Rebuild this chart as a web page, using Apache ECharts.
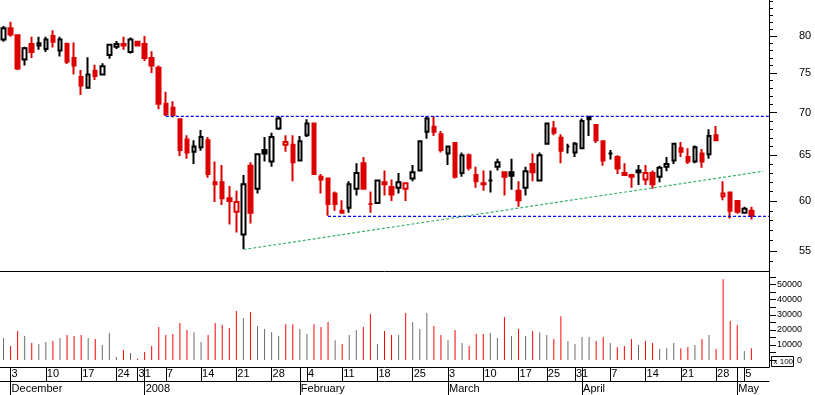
<!DOCTYPE html>
<html><head><meta charset="utf-8">
<script src="https://cdn.jsdelivr.net/npm/echarts@6/dist/echarts.min.js"></script>
<style>html,body{margin:0;padding:0;background:#fff}#c{width:815px;height:395px}</style>
</head><body><div id="c"></div>
<script>
const dates = [
'2007-11-30',
'2007-12-03','2007-12-04','2007-12-05','2007-12-06','2007-12-07',
'2007-12-10','2007-12-11','2007-12-12','2007-12-13','2007-12-14',
'2007-12-17','2007-12-18','2007-12-19','2007-12-20','2007-12-21',
'2007-12-24','2007-12-27','2007-12-28',
'2007-12-31','2008-01-02','2008-01-03','2008-01-04',
'2008-01-07','2008-01-08','2008-01-09','2008-01-10','2008-01-11',
'2008-01-14','2008-01-15','2008-01-16','2008-01-17','2008-01-18',
'2008-01-21','2008-01-22','2008-01-23','2008-01-24','2008-01-25',
'2008-01-28','2008-01-29','2008-01-30','2008-01-31','2008-02-01',
'2008-02-04','2008-02-05','2008-02-06','2008-02-07','2008-02-08',
'2008-02-11','2008-02-12','2008-02-13','2008-02-14','2008-02-15',
'2008-02-18','2008-02-19','2008-02-20','2008-02-21','2008-02-22',
'2008-02-25','2008-02-26','2008-02-27','2008-02-28','2008-02-29',
'2008-03-03','2008-03-04','2008-03-05','2008-03-06','2008-03-07',
'2008-03-10','2008-03-11','2008-03-12','2008-03-13','2008-03-14',
'2008-03-17','2008-03-18','2008-03-19','2008-03-20',
'2008-03-25','2008-03-26','2008-03-27','2008-03-28',
'2008-03-31','2008-04-01','2008-04-02','2008-04-03','2008-04-04',
'2008-04-07','2008-04-08','2008-04-09','2008-04-10','2008-04-11',
'2008-04-14','2008-04-15','2008-04-16','2008-04-17','2008-04-18',
'2008-04-21','2008-04-22','2008-04-23','2008-04-24','2008-04-25',
'2008-04-28','2008-04-29','2008-04-30','2008-05-02',
'2008-05-05','2008-05-06',
'2008-05-07','2008-05-08'
];
const opens = [
79.5,81.1,80.1,76.8,78.9,78.7,78.2,80.0,78.0,78.9,77.0,74.5,73.1,75.3,74.8,77.4,78.5,78.9,77.8,79.2,
78.9,77.0,75.7,71.1,70.6,69.2,66.8,65.4,65.9,66.7,62.0,62.0,60.3,58.9,56.6,63.8,61.3,65.6,64.3,68.1,
66.2,66.2,64.4,67.3,68.7,62.6,62.4,60.8,58.8,59.3,61.3,64.1,59.7,59.8,61.8,61.5,61.4,61.3,62.4,63.3,
67.7,68.3,67.4,65.2,66.4,63.0,65.0,62.8,61.9,62.2,63.7,63.1,63.1,61.1,61.4,64.0,62.2,66.3,68.1,67.0,
66.0,65.3,65.8,69.5,68.5,66.6,65.2,64.8,63.0,62.8,63.3,62.3,63.0,62.6,63.7,64.4,65.8,64.8,64.3,65.2,
65.1,67.3,60.5,60.9,60.0,58.8,59.0
];
const highs = [
81.4,82.0,80.2,78.5,79.9,79.9,79.9,80.8,79.9,79.1,79.1,75.4,77.1,76.1,76.3,78.8,79.3,79.9,79.8,79.2,
80.0,77.9,76.0,72.6,71.4,69.3,67.3,66.7,67.9,67.1,64.3,63.9,61.6,61.1,62.8,64.2,65.1,67.1,67.6,69.6,
67.3,67.3,67.2,69.2,68.8,62.9,62.4,61.0,60.1,62.1,64.1,64.8,61.0,62.3,63.3,62.3,63.0,61.9,63.9,66.6,
69.6,69.6,67.8,66.1,66.4,65.3,65.2,63.7,63.3,63.3,64.6,63.1,64.6,62.1,63.7,65.2,65.3,68.8,69.0,67.4,
66.3,66.5,69.3,69.5,68.5,66.7,65.6,65.0,64.1,62.9,63.9,63.9,63.3,63.8,64.8,66.4,66.5,65.8,66.1,65.7,
68.0,68.4,62.1,60.9,60.0,59.4,59.4
];
const lows = [
79.2,79.9,75.4,76.0,77.0,78.1,77.8,78.4,77.2,76.2,74.8,72.2,73.1,74.1,74.8,76.9,78.2,78.1,77.6,78.6,
76.6,75.0,70.4,69.6,69.4,64.9,64.6,64.0,65.5,62.5,59.9,59.6,57.6,56.8,55.2,57.7,60.8,64.3,63.7,67.9,
65.4,62.1,64.4,67.1,62.9,60.8,58.5,59.0,58.7,58.8,60.6,61.2,58.8,59.8,60.6,60.0,60.8,60.0,62.1,63.2,
66.9,67.2,65.3,63.9,62.4,62.6,63.3,61.4,61.1,60.9,63.3,60.6,61.2,59.4,60.6,62.1,62.2,66.2,67.3,64.1,
65.2,64.8,65.8,67.2,66.4,63.8,64.5,62.9,62.7,61.4,61.7,61.7,61.3,62.0,63.2,64.0,64.8,64.0,64.1,63.6,
64.6,66.6,60.1,58.2,58.7,58.7,58.1
];
const closes = [
81.1,80.2,75.6,78.3,77.8,79.0,79.5,79.2,79.5,76.5,76.0,73.4,74.8,74.6,75.9,78.8,78.9,78.7,79.5,78.7,
77.0,76.0,71.1,69.8,69.7,65.6,65.3,66.0,67.1,62.9,61.8,60.3,60.0,59.9,61.8,58.8,65.1,65.2,67.1,69.3,
66.5,64.2,66.6,68.7,62.9,62.3,59.7,59.7,59.0,61.8,63.0,61.3,59.7,62.2,62.0,60.7,62.0,61.9,63.1,66.6,
69.3,67.7,65.6,66.0,62.6,65.0,63.6,62.1,61.8,62.2,64.2,62.6,62.7,60.1,63.2,63.1,65.0,68.7,67.6,65.5,
66.0,66.3,69.0,69.2,66.7,64.4,65.2,63.5,62.8,62.6,63.1,63.0,61.8,63.6,64.0,66.3,65.4,64.3,65.9,64.3,
67.2,66.7,60.8,59.0,58.9,59.2,58.5
];
const volumes = [
14600,9300,19200,15900,11300,10600,11900,12600,14600,16600,15900,16600,14600,13900,9900,17900,2000,6600,4600,900,
5300,9300,21900,16600,17200,24500,19900,18500,11900,16600,24500,23200,21200,32500,27800,31800,22500,20500,18500,15900,
23800,23800,20500,17200,23800,21900,25200,13200,10600,16600,19900,21900,30500,10600,19200,16600,16600,31100,25200,20500,
31100,22500,16600,13200,19900,11300,9300,17200,17200,17900,14600,28500,15900,20500,15900,19200,18500,16600,13900,29100,
12600,10600,15200,15200,12600,15200,11300,8600,9300,13900,9900,12600,11300,7300,7900,11300,7900,8600,9900,13900,
16600,7300,53600,25800,23200,6000,7900
];
const priceLabels = [55,60,65,70,75,80];
const priceMinorTicks = [54,55,56,57,58,59,60,61,62,63,64,65,66,67,68,69,70,71,72,73,74,75,76,77,78,79,80,81,82,83,84,85];
const priceRange = [53.12, 85.18];
const volumeLabels = [0,10000,20000,30000,40000,50000];
const volumeTicks = [0,5000,10000,15000,20000,25000,30000,35000,40000,45000,50000,55000];
const volumeRange = [-4600, 59000];
const resistanceLine = [[23,69.55],[108.5,69.55]];
const supportLine = [[46,58.43],[108.5,58.43]];
const trendLine = [[34,55.15],[107.7,63.2]];
const monthNames = ['2008','February','March','April','May','June','July','August','September','October','November','December'];

const RED = '#dc0000', BLACK = '#000000', VRED = '#ff0000', VGRAY = '#6b6b6b';
const FONT = 'Liberation Sans';
const L = Math.log;

function dow(s){ return new Date(s + 'T00:00:00Z').getUTCDay(); }
function dayDiff(a,b){ return (new Date(b+'T00:00:00Z') - new Date(a+'T00:00:00Z'))/86400000; }
function isWeekStart(i){ if (i <= 0) return false; return dow(dates[i]) <= dow(dates[i-1]) || dayDiff(dates[i-1], dates[i]) >= 7; }
function isMonthStart(i){ if (i <= 0) return false; return dates[i].slice(5,7) !== dates[i-1].slice(5,7); }

const candleData = dates.map((d,i) => {
  if (i >= opens.length) return '-';
  const o = opens[i], c = closes[i], pc = i > 0 ? closes[i-1] : null;
  const down = pc !== null && (c < pc || (c === pc && c < o));
  const edge = down ? RED : BLACK;
  const fill = c > o ? '#ffffff' : edge;
  return { value: [L(o), L(c), L(lows[i]), L(highs[i])],
    itemStyle: { color: fill, color0: fill, borderColor: edge, borderColor0: edge } };
});
const volumeData = dates.map((d,i) => {
  if (i >= volumes.length) return '-';
  const down = i > 0 && closes[i] < closes[i-1];
  return { value: volumes[i], itemStyle: { color: down ? VRED : VGRAY } };
});
const toLn = arr => arr.map(p => [p[0], L(p[1])]);

const chart = echarts.init(document.getElementById('c'), null, { renderer: 'canvas' });
const lbl = { color: '#000', fontFamily: FONT, fontSize: 11 };
const line1 = { onZero: false, lineStyle: { color: '#000', width: 1 } };
chart.setOption({
  animation: false,
  backgroundColor: '#ffffff',
  grid: [
    { left: 0, top: 0, width: 769, height: 271, containLabel: false, outerBoundsMode: 'none' },
    { left: 0, top: 271, width: 769, height: 96, containLabel: false, outerBoundsMode: 'none' }
  ],
  xAxis: [
    { type: 'category', gridIndex: 0, data: dates, boundaryGap: true, position: 'bottom',
      axisLine: line1, axisTick: { show: false }, axisLabel: { show: false }, splitLine: { show: false } },
    { type: 'value', gridIndex: 0, min: -0.5, max: 108.5, show: false, position: 'top',
      axisLine: { show: false, onZero: false }, splitLine: { show: false } },
    { type: 'category', gridIndex: 1, data: dates, boundaryGap: true, position: 'bottom',
      axisLine: line1,
      axisTick: { show: true, alignWithLabel: true, length: 14, interval: (i) => isWeekStart(i) || isMonthStart(i), lineStyle: { color: '#000', width: 1 } },
      axisLabel: Object.assign({ interval: (i) => isWeekStart(i), formatter: v => String(+v.slice(8)), align: 'left', margin: 1, padding: [0,0,0,1] }, lbl),
      splitLine: { show: false } },
    { type: 'category', gridIndex: 1, data: dates, boundaryGap: true, position: 'bottom', offset: 14,
      axisLine: line1,
      axisTick: { show: true, alignWithLabel: true, length: 14, interval: (i) => isMonthStart(i), lineStyle: { color: '#000', width: 1 } },
      axisLabel: Object.assign({ interval: (i) => isMonthStart(i), formatter: v => monthNames[(+v.slice(5,7)) - 1], align: 'left', margin: 2, padding: [0,0,0,1] }, lbl),
      splitLine: { show: false } }
  ],
  yAxis: [
    { type: 'value', gridIndex: 0, position: 'right', min: L(priceRange[0]), max: L(priceRange[1]),
      axisLine: { show: true, onZero: false, lineStyle: { color: '#000', width: 1 } },
      axisTick: { show: true, length: 8, customValues: priceLabels.map(L), lineStyle: { color: '#000' } },
      axisLabel: Object.assign({ customValues: priceLabels.map(L), formatter: v => String(Math.round(Math.exp(v))), margin: 30 }, lbl),
      splitLine: { show: false } },
    { type: 'value', gridIndex: 0, position: 'right', min: L(priceRange[0]), max: L(priceRange[1]),
      axisLine: { show: false, onZero: false },
      axisTick: { show: true, length: 4, customValues: priceMinorTicks.map(L), lineStyle: { color: '#000' } },
      axisLabel: { show: false }, splitLine: { show: false } },
    { type: 'value', gridIndex: 1, position: 'right', min: volumeRange[0], max: volumeRange[1],
      axisLine: { show: true, onZero: false, lineStyle: { color: '#000', width: 1 } },
      axisTick: { show: true, length: 7, customValues: volumeTicks, lineStyle: { color: '#000' } },
      axisLabel: { customValues: volumeLabels, formatter: v => String(v), margin: 33, align: 'right', color: '#000', fontFamily: FONT, fontSize: 9 },
      splitLine: { show: false } }
  ],
  series: [
    { type: 'candlestick', xAxisIndex: 0, yAxisIndex: 0, data: candleData, barWidth: 4,
      itemStyle: { borderWidth: 2 }, emphasis: { disabled: true } },
    { type: 'line', xAxisIndex: 1, yAxisIndex: 0, data: toLn(resistanceLine), symbol: 'none', silent: true,
      lineStyle: { color: '#0000ff', width: 1.2, type: [3,2] }, z: 3 },
    { type: 'line', xAxisIndex: 1, yAxisIndex: 0, data: toLn(supportLine), symbol: 'none', silent: true,
      lineStyle: { color: '#0000ff', width: 1.2, type: [3,2] }, z: 3 },
    { type: 'line', xAxisIndex: 1, yAxisIndex: 0, data: toLn(trendLine), symbol: 'none', silent: true,
      lineStyle: { color: '#3cb371', width: 1.2, type: [3,2] }, z: 3 },
    { type: 'bar', xAxisIndex: 2, yAxisIndex: 2, data: volumeData, barWidth: 1, emphasis: { disabled: true } }
  ],
  graphic: [
    { type: 'group', left: 771, top: 356, children: [
      { type: 'rect', shape: { x: 0, y: 0, width: 22, height: 10 }, style: { fill: '#fff', stroke: '#000', lineWidth: 1 } },
      { type: 'text', x: 2, y: 1, style: { text: 'x 100', font: '8px "Liberation Sans"', fill: '#000' } }
    ] }
  ]
});
</script></body></html>
